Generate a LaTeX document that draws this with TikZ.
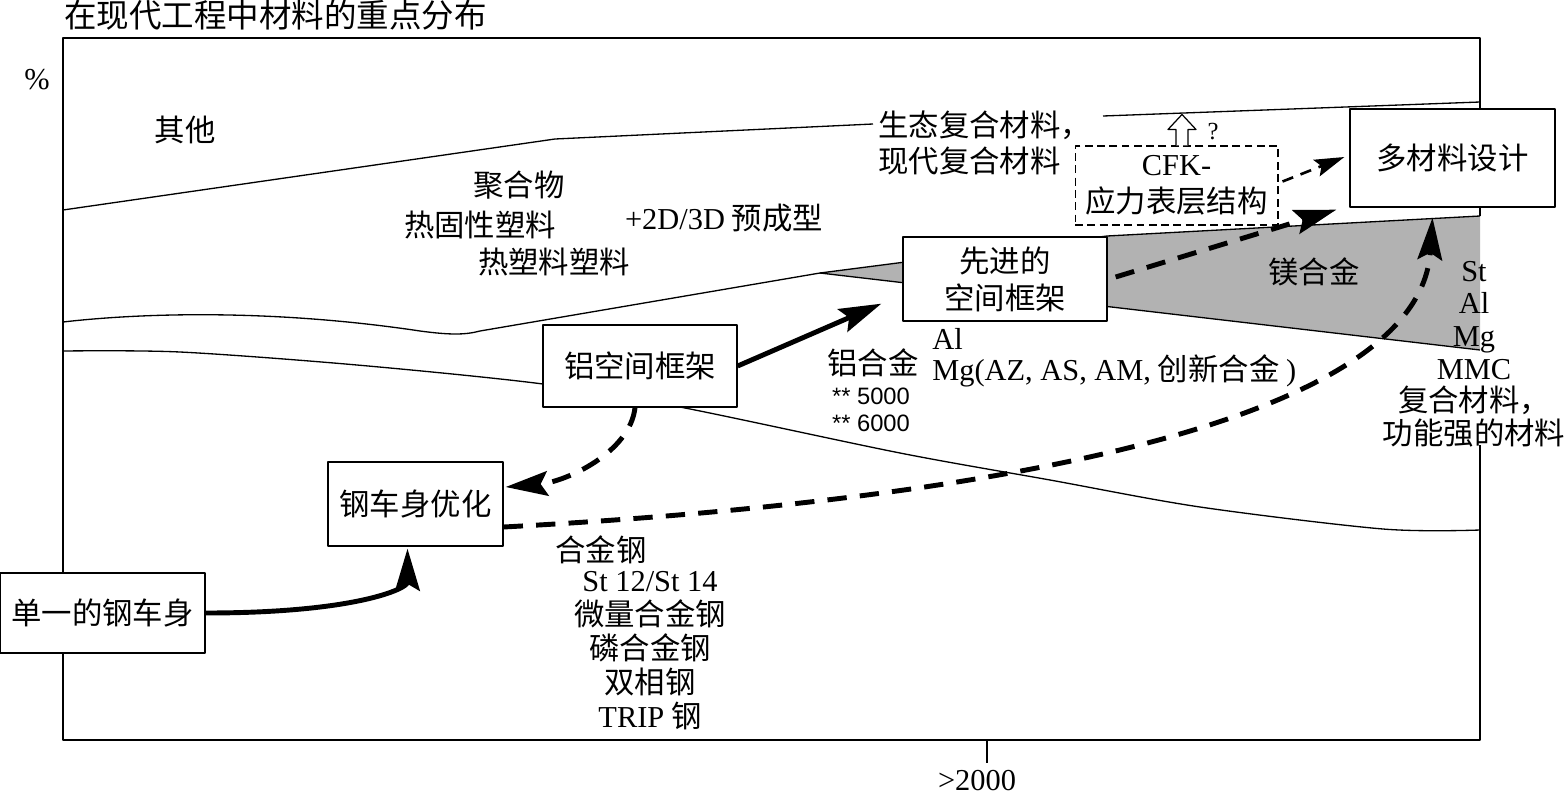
\documentclass[tikz,border=0pt]{standalone}
\usepackage{fontspec}
\setmainfont{Liberation Serif}
\newfontfamily\cjk{Noto Sans CJK SC}
\newfontfamily\grade{Liberation Sans}
\usetikzlibrary{arrows.meta, calc}

\begin{document}
\begin{tikzpicture}[x=0.02cm, y=-0.02cm, line join=round,
  % plain labels (CJK by default)
  txt/.style={inner sep=0pt, align=center, font=\cjk\fontsize{17.3}{20.5}\selectfont},
  % framed stages
  stagebox/.style={draw, line width=0.75pt, fill=white, inner sep=0pt, align=center,
                   font=\cjk\fontsize{17.3}{21}\selectfont},
  curve/.style={line width=0.75pt},
  bigarrow/.style={line width=2.8pt, -{Stealth[length=24pt, width=14pt, inset=4pt]}},
  dasharrow/.style={bigarrow, dash pattern=on 11pt off 7.5pt},
  thindasharrow/.style={line width=1.5pt, dash pattern=on 6.5pt off 4.5pt,
                        -{Stealth[length=17pt, width=10pt, inset=3pt]}}
]
  \useasboundingbox (0,0) rectangle (1566,795);

  % Magnesium wedge
  \fill[black!30] (820,273) -- (1107,236) -- (1480,216) -- (1480,350) -- cycle;

  % Share boundaries
  \draw[curve] (63,210) -- (555,139) -- (873,124);
  \draw[curve] (1103,116) -- (1480,102);
  \draw[curve] (63,322) .. controls (150,312) and (280,310) .. (420,331)
               .. controls (450,335) and (465,335) .. (480,331)
               -- (820,273) -- (1107,236) -- (1480,216);
  \draw[curve] (820,273) -- (1480,350);
  \draw[curve] plot[smooth] coordinates {(63,351) (180,352) (357,365) (543,384)
               (680,407) (900,453) (1050,480) (1200,507) (1383,529) (1480,530)};

  % Frame and axis
  \draw[curve] (1480,216) |- (63,38) |- (1480,740) -- (1480,445);
  \draw[curve] (987,740) -- (987,763);
  \node[txt, anchor=west, font=\cjk\fontsize{18.5}{20}\selectfont] (title) at (64,15) {在现代工程中材料的重点分布};
  \node[txt, font=\fontsize{17.3}{20}\selectfont] (percent) at (37,80) {\%};
  \node[txt, font=\fontsize{17.3}{20}\selectfont] (count) at (977,781) {>2000};

  % Material labels
  \node[txt] (other)         at (185,130) {其他};
  \node[txt] (polymer)       at (519,185) {聚合物};
  \node[txt] (thermoset)     at (480,225) {热固性塑料};
  \node[txt] (preform)       at (724,218) {{\rmfamily +2D/3D} 预成型};
  \node[txt] (thermoplastic) at (554,262) {热塑料塑料};
  \node[txt, anchor=west, align=left] (eco) at (878,142.5) {生态复合材料，\\现代复合材料};
  \node[txt] (magnesium)     at (1314,272) {镁合金};
  \node[txt, font=\cjk\fontsize{17.3}{18.6}\selectfont] (mixstack) at (1474,354)
       {{\rmfamily St}\\{\rmfamily Al}\\{\rmfamily Mg}\\{\rmfamily MMC}\\复合材料，\\功能强的材料};
  \node[txt] (alalloy)       at (873,363) {铝合金};
  \node[txt, align=left, font=\grade\fontsize{13.5}{15.3}\selectfont] (algrades) at (871,409.5) {** 5000\\** 6000};
  \node[txt, anchor=west, align=left, font=\cjk\fontsize{17.3}{17.6}\selectfont] (mgline) at (932,357.5)
       {{\rmfamily Al}\\{\rmfamily Mg(AZ, AS, AM,} 创新合金 {\rmfamily )}};
  \node[txt] (steel)         at (601,550) {合金钢};
  \node[txt, font=\cjk\fontsize{17.3}{19.3}\selectfont] (steelgrades) at (650,650.5)
       {{\rmfamily St 12/St 14}\\微量合金钢\\磷合金钢\\双相钢\\{\rmfamily TRIP} 钢};

  % Stages
  \node[stagebox, minimum width=4.1cm, minimum height=1.6cm]  (single)   at (102.5,613) {单一的钢车身};
  \node[stagebox, minimum width=3.5cm, minimum height=1.68cm] (opt)      at (415.5,504) {钢车身优化};
  \node[stagebox, minimum width=3.88cm, minimum height=1.64cm] (alframe) at (640,366)   {铝空间框架};
  \node[stagebox, minimum width=4.08cm, minimum height=1.68cm] (advframe) at (1005,279) {先进的\\空间框架};
  \node[stagebox, minimum width=4.06cm, minimum height=1.58cm, line width=0.6pt,
        dash pattern=on 4.5pt off 2.5pt] (cfk) at (1176.5,185.5) {{\rmfamily CFK-}\\应力表层结构};
  \node[stagebox, minimum width=4.1cm, minimum height=1.96cm] (multi)    at (1452.5,158) {多材料设计};

  % Hollow arrow up from CFK
  \coordinate (up) at ($(cfk.north)+(5.5,0)$);
  \draw[line width=0.7pt, fill=white] (up) ++(-6,0) -- ++(0,-16) -- ++(-8,0) -- ++(14,-15)
       -- ++(14,15) -- ++(-8,0) -- ++(0,16);
  \node[txt, font=\fontsize{14}{15}\selectfont] (question) at (1213,132) {?};

  % Development paths
  \draw[bigarrow] (single.east) .. controls +(150,0) and +(0,40) .. ($(opt.south)+(-8,2)$);
  \draw[bigarrow] (alframe.east) -- ($(advframe.south west)+(-21,-18)$);
  \draw[dasharrow] ($(alframe.south)+(-5,0)$) .. controls +(-5,45) and +(60,-5) .. ($(opt.east)+(2,-17)$);
  \draw[dasharrow] ($(opt.east)+(0,23)$) .. controls +(497,-27) and +(-13,203) .. ($(multi.south)+(-20,10)$);
  \draw[dasharrow] ($(advframe.east)+(8,-2)$) -- ($(multi.south west)+(-13,2)$);
  \draw[thindasharrow] ($(cfk.east)+(4,-4)$) -- ($(multi.west)+(-5,-1)$);
\end{tikzpicture}
\end{document}
